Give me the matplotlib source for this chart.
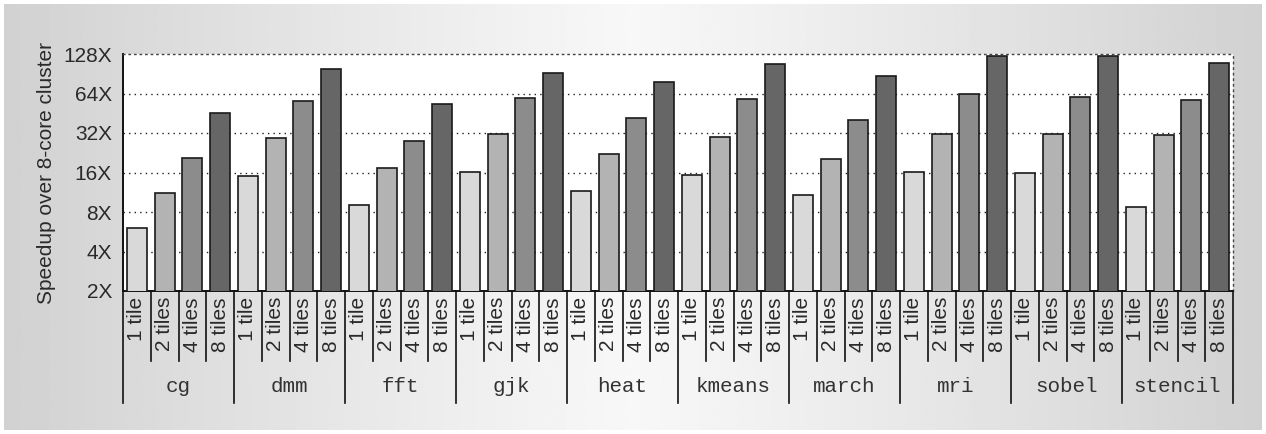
import numpy as np
import matplotlib
matplotlib.use("Agg")
import matplotlib.pyplot as plt
from matplotlib.lines import Line2D
import matplotlib.transforms as mtransforms

benchmarks = ["cg", "dmm", "fft", "gjk", "heat", "kmeans", "march", "mri", "sobel", "stencil"]
tile_labels = ["1 tile", "2 tiles", "4 tiles", "8 tiles"]
one_tile = [6.0, 15.0, 9.1, 16.1, 11.6, 15.3, 10.8, 16.1, 15.8, 8.7]
two_tiles = [11.2, 29.5, 17.4, 31.6, 22.3, 30.0, 20.2, 31.6, 31.6, 30.7]
four_tiles = [20.7, 55.8, 27.9, 58.8, 41.4, 58.4, 40.4, 63.1, 60.2, 57.4]
eight_tiles = [45.7, 99.0, 53.2, 91.7, 78.8, 106.8, 87.5, 123.6, 123.6, 109.9]
y_ticks = [2, 4, 8, 16, 32, 64, 128]
y_ticklabels = ["2X", "4X", "8X", "16X", "32X", "64X", "128X"]
ylabel = "Speedup over 8-core cluster"

series = [one_tile, two_tiles, four_tiles, eight_tiles]
colors = ["#d9d9d9", "#b3b3b3", "#8c8c8c", "#666666"]

plt.rcParams["font.family"] = ["Liberation Sans", "DejaVu Sans"]

W, H = 1266, 434
fig = plt.figure(figsize=(W / 100, H / 100), dpi=100)
fig.patch.set_facecolor("white")

# soft horizontal gradient panel behind everything
bg = fig.add_axes([4 / W, 4 / H, (W - 8) / W, (H - 8) / H], zorder=0)
xs = np.linspace(-1, 1, 600)
shade = 0.97 - 0.15 * np.abs(xs) ** 1.1
grad = np.tile(shade, (2, 1))
bg.imshow(grad, cmap="gray", vmin=0, vmax=1, aspect="auto",
          extent=[0, 1, 0, 1], interpolation="bilinear")
bg.set_axis_off()

x0, x1 = 123, 1233
y_top, y_bot = 54, 291
ax = fig.add_axes([x0 / W, (H - y_bot) / H, (x1 - x0) / W, (y_bot - y_top) / H], zorder=1)
ax.set_facecolor("white")

n_groups = len(benchmarks)
n_series = len(series)
bar_w = 0.72
for si, vals in enumerate(series):
    xpos = np.arange(n_groups) * n_series + si + 0.5
    ax.bar(xpos, vals, width=bar_w, bottom=0, color=colors[si],
           edgecolor="#1a1a1a", linewidth=1.2, zorder=3)

ax.set_yscale("log", base=2)
ax.set_ylim(2, 128)
ax.set_xlim(0, n_groups * n_series)
ax.set_yticks(y_ticks)
ax.set_yticklabels(y_ticklabels)
ax.yaxis.set_minor_locator(matplotlib.ticker.NullLocator())
ax.tick_params(axis="y", length=0, pad=8, labelsize=15, colors="#2a2a2a")
ax.set_xticks([])

for t in y_ticks[1:-1]:
    ax.axhline(t, color="#222222", linestyle=(0, (1, 3)), linewidth=1.0, zorder=1)

for side in ("top", "right"):
    ax.spines[side].set_linestyle((0, (1, 3)))
    ax.spines[side].set_linewidth(1.0)
    ax.spines[side].set_color("#444444")
for side in ("left", "bottom"):
    ax.spines[side].set_linewidth(1.4)
    ax.spines[side].set_color("#111111")

trans = mtransforms.blended_transform_factory(ax.transData, ax.transAxes)
ph = y_bot - y_top
cell_drop = -(361 - y_bot) / ph
group_drop = -(403 - y_bot) / ph
label_y = -(387 - y_bot) / ph
text_y = -(297 - y_bot) / ph

for g in range(n_groups):
    for si in range(n_series):
        xc = g * n_series + si + 0.5
        ax.text(xc, text_y, tile_labels[si], transform=trans, rotation=90,
                ha="center", va="top", fontsize=15, color="#2a2a2a")
        if si > 0:
            ax.add_line(Line2D([g * n_series + si] * 2, [0, cell_drop], transform=trans,
                               color="#111111", linewidth=1.2, clip_on=False))
    ax.text(g * n_series + n_series / 2, label_y, benchmarks[g], transform=trans,
            ha="center", va="center", fontsize=15, family="Liberation Mono",
            color="#333333")

for g in range(n_groups + 1):
    ax.add_line(Line2D([g * n_series] * 2, [0, group_drop], transform=trans,
                       color="#111111", linewidth=1.2, clip_on=False))

fig.text(47 / W, 1 - 172.5 / H, ylabel, rotation=90, ha="center", va="center",
         fontsize=15, color="#2a2a2a")

fig.savefig("out.png", dpi=100)
